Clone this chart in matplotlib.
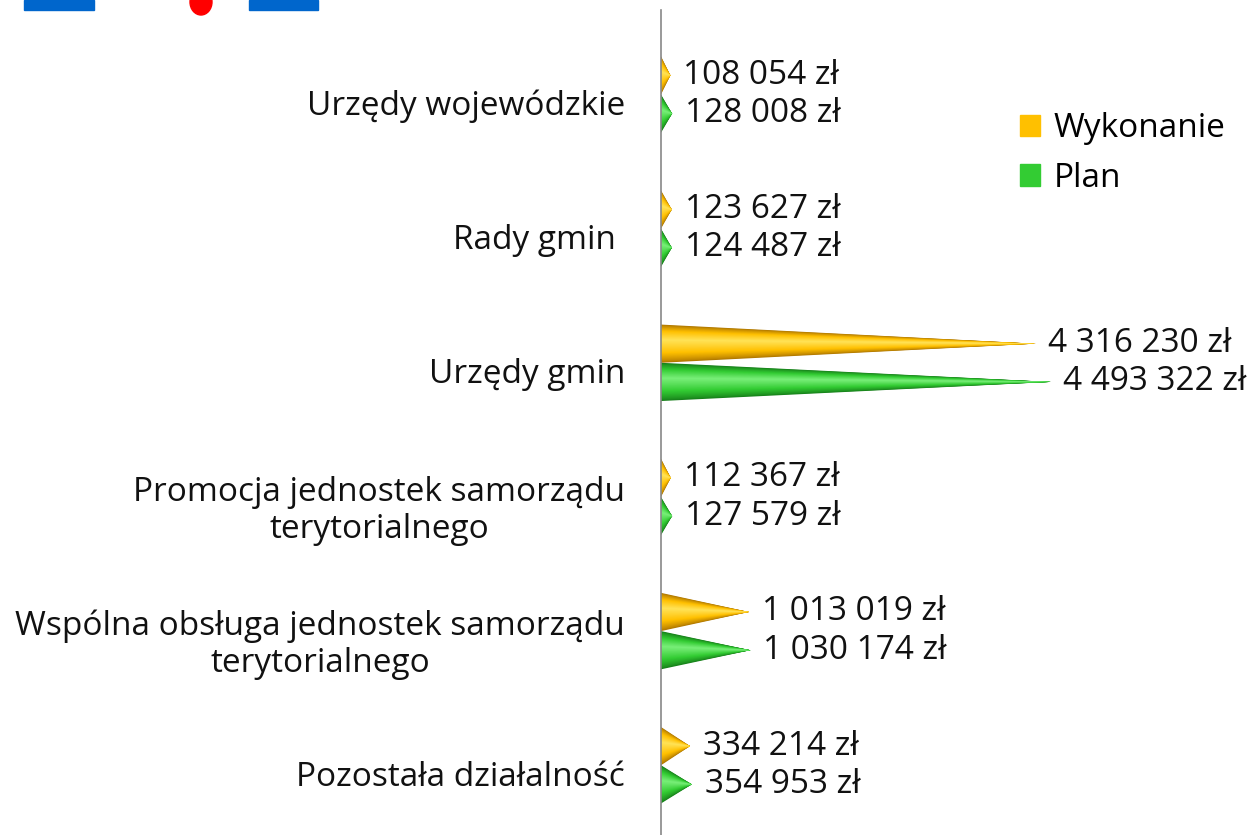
import matplotlib.pyplot as plt
from matplotlib.patches import Patch, Rectangle, Ellipse
from matplotlib.transforms import ScaledTranslation
import matplotlib.colors as mcolors
import numpy as np

categories = ["Urzędy wojewódzkie", "Rady gmin ", "Urzędy gmin",
              "Promocja jednostek samorządu\nterytorialnego",
              "Wspólna obsługa jednostek samorządu\nterytorialnego",
              "Pozostała działalność"]
wykonanie = [108054, 123627, 4316230, 112367, 1013019, 334214]
plan = [128008, 124487, 4493322, 127579, 1030174, 354953]
series_names = ["Wykonanie", "Plan"]

plt.rcParams['font.family'] = ['Open Sans', 'DejaVu Sans']
FS = 24

# (dark edge, main, highlight)
shades = {
    "Wykonanie": ("#B07800", "#FFC000", "#FFE45A"),
    "Plan": ("#17801A", "#33CC33", "#7BF07B"),
}


def fmt(v):
    return f"{v:,}".replace(",", " ") + " zł"


def cone(ax, y0, y1, value, cols):
    dark, main, light = cols
    cmap = mcolors.LinearSegmentedColormap.from_list("c", [dark, main, light])
    n = 24
    hl = y0 + 0.4 * (y1 - y0)  # highlight line
    for k in range(n):
        f = k / n
        top = y0 + (hl - y0) * f
        bot = y1 + (hl - y1) * f
        tip = (y0 + y1) / 2
        ax.fill([0, value, 0], [top, tip, bot], color=cmap(f ** 0.8), lw=0)


fig = plt.figure(figsize=(12.56, 8.35), dpi=100)
ax = fig.add_axes([661 / 1256, 0, 595 / 1256, 825 / 835])

h = 0.285
y = np.arange(len(categories))
for i in range(len(categories)):
    cone(ax, y[i] - h, y[i], wykonanie[i], shades["Wykonanie"])
    cone(ax, y[i], y[i] + h, plan[i], shades["Plan"])
    ax.text(wykonanie[i] + 150000, y[i] - h / 2, fmt(wykonanie[i]),
            va="center", ha="left", fontsize=FS, color="#111111")
    ax.text(plan[i] + 150000, y[i] + h / 2, fmt(plan[i]),
            va="center", ha="left", fontsize=FS, color="#111111")

ax.set_xlim(0, 6.866e6)
ax.set_ylim(5.52, -0.63)
ax.set_yticks(y)
ax.set_yticklabels(categories, fontsize=FS, multialignment="center",
                   color="#111111", linespacing=1.15)
ax.tick_params(axis="y", length=0, pad=26)
shift = ScaledTranslation(0, -0.08, fig.dpi_scale_trans)
for lab in ax.get_yticklabels():
    lab.set_transform(lab.get_transform() + shift)
ax.set_xticks([])
for s in ["top", "right", "bottom"]:
    ax.spines[s].set_visible(False)
ax.spines["left"].set_color("#888888")
ax.spines["left"].set_linewidth(1.2)

handles = [Patch(color=shades[n][1], label=n) for n in series_names]
fig.legend(handles=handles, loc="upper left", bbox_to_anchor=(990 / 1256, 1 - 82 / 835),
           frameon=False, fontsize=FS, handlelength=0.6, handleheight=0.6,
           labelspacing=0.5, handletextpad=0.4)

# fragment of a logo cut off at the top edge
fig.patches.append(Rectangle((24 / 1256, 1 - 10 / 835), 70 / 1256, 10 / 835,
                             transform=fig.transFigure, color="#0066CC"))
fig.patches.append(Rectangle((249 / 1256, 1 - 10 / 835), 69 / 1256, 10 / 835,
                             transform=fig.transFigure, color="#0066CC"))
fig.patches.append(Ellipse((201 / 1256, 1 - 2 / 835), 22 / 1256, 26 / 835,
                           transform=fig.transFigure, color="#FF0000"))

fig.savefig("out.png", dpi=100, facecolor="white")
